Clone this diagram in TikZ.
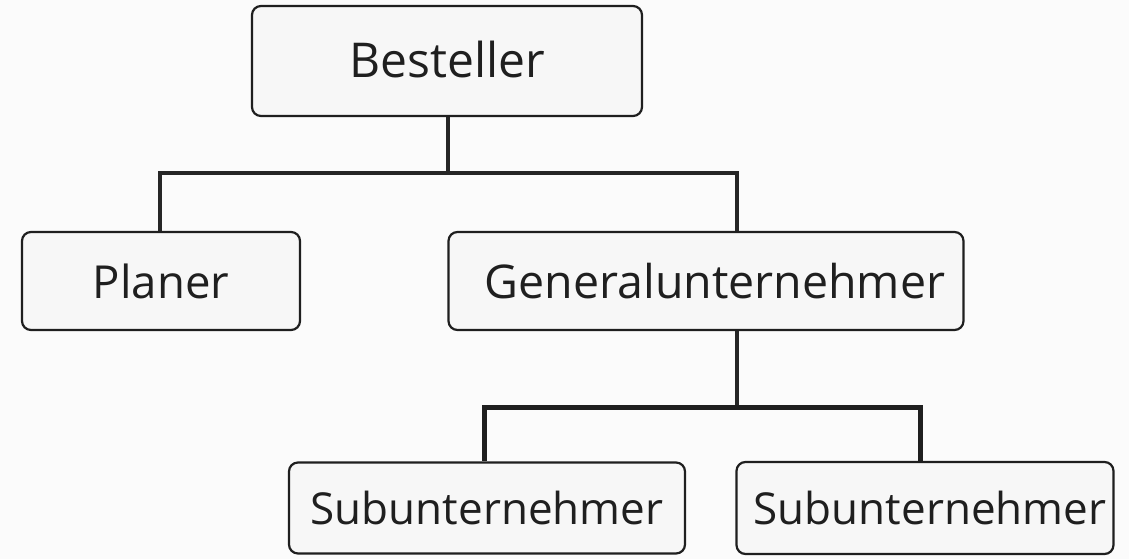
\documentclass[tikz,border=0pt]{standalone}
\usepackage{fontspec}
\setmainfont{Open Sans}
\begin{document}
\begin{tikzpicture}[x=1pt,y=-1pt,
  orgbox/.style={draw=black!88, line width=2.2pt, rounded corners=9pt,
    fill=black!3, inner sep=0pt, text=black!88,
    font=\fontsize{44}{50}\selectfont},
  link/.style={draw=black!85, line width=3.5pt},
  linkthick/.style={draw=black!88, line width=5pt}]
\fill[black!1.5] (0,0) rectangle (1129,559);
\useasboundingbox (0,0) rectangle (1129,559);

\node[orgbox, minimum width=390pt, minimum height=110pt,
      font=\fontsize{48}{54}\selectfont] (best) at (447,61) {\raisebox{3pt}{Besteller}};
\node[orgbox, minimum width=278pt, minimum height=98pt,
      font=\fontsize{45.5}{52}\selectfont] (plan) at (161,281) {Planer};
\node[orgbox, minimum width=515pt, minimum height=98pt,
      font=\fontsize{46.5}{52}\selectfont] (gu) at (706,281) {\hspace{18pt}Generalunternehmer};
\node[orgbox, minimum width=396pt, minimum height=91pt] (sub1) at (487,508) {Subunternehmer};
\node[orgbox, minimum width=377pt, minimum height=92pt] (sub2) at (925,508) {\hspace{10pt}Subunternehmer};

\coordinate (t1) at (448,173);
\coordinate (t2) at (737,407);

% upper branch
\draw[link] (best.south -| t1) -- (t1);
\draw[link, line cap=rect] (160,173) -- (737,173);
\draw[link] (160,173) -- (plan.north -| 160,0);
\draw[link] (737,173) -- (gu.north -| 737,0);

% lower branch
\draw[link, line width=4pt] (gu.south -| t2) -- (t2);
\draw[linkthick, line cap=rect] (484,407) -- (920,407);
\draw[linkthick] (484,407) -- (sub1.north -| 484,0);
\draw[linkthick] (920,407) -- (sub2.north -| 920,0);
\end{tikzpicture}
\end{document}
